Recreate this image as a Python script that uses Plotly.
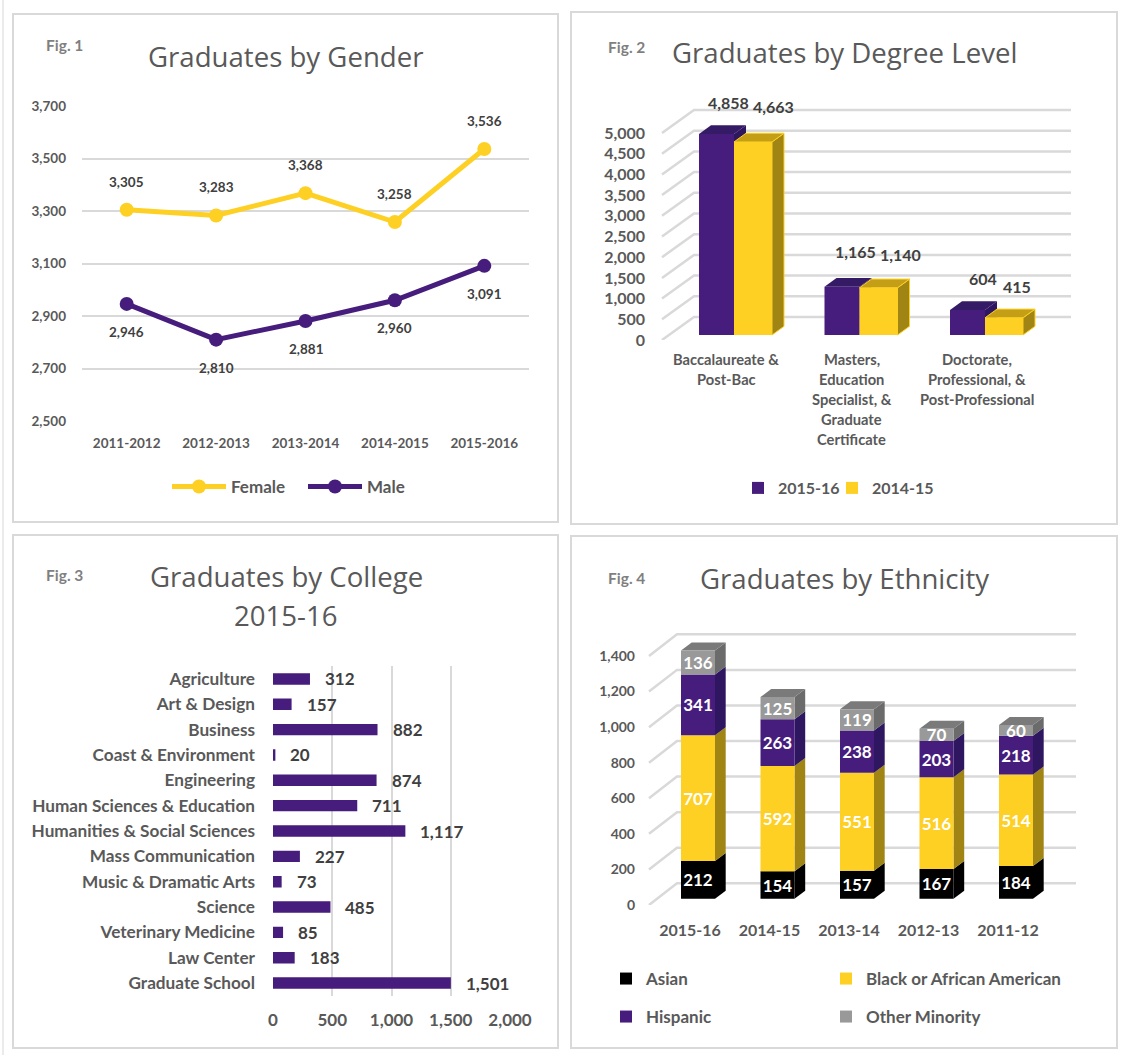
import plotly.graph_objects as go

W, H = 1127, 1055
PURPLE, YELLOW = "#461D7C", "#FDD023"
BLACK, GREY = "#000000", "#999999"
GRID = "#d9d9d9"
BODY = "Lato"
TITLE = "Open Sans"
TXT = "#404040"
TICK = "#595959"

# ---------- data ----------
years1 = ["2011-2012", "2012-2013", "2013-2014", "2014-2015", "2015-2016"]
female = [3305, 3283, 3368, 3258, 3536]
male = [2946, 2810, 2881, 2960, 3091]

degree_lines = [
    ["Baccalaureate &", "Post-Bac"],
    ["Masters,", "Education", "Specialist, &", "Graduate", "Certificate"],
    ["Doctorate,", "Professional, &", "Post-Professional"],
]
deg_1516 = [4858, 1165, 604]
deg_1415 = [4663, 1140, 415]

colleges = ["Agriculture", "Art & Design", "Business", "Coast & Environment", "Engineering",
            "Human Sciences & Education", "Humanities & Social Sciences", "Mass Communication",
            "Music & Dramatic Arts", "Science", "Veterinary Medicine", "Law Center", "Graduate School"]
college_vals = [312, 157, 882, 20, 874, 711, 1117, 227, 73, 485, 85, 183, 1501]

years4 = ["2015-16", "2014-15", "2013-14", "2012-13", "2011-12"]
asian = [212, 154, 157, 167, 184]
black = [707, 592, 551, 516, 514]
hispanic = [341, 263, 238, 203, 218]
other = [136, 125, 119, 70, 60]

fig = go.Figure()


def xd(a, b):
    return [a / W, b / W]


def yd(top, bottom):
    return [1 - bottom / H, 1 - top / H]


def note(text, x, y, size, color=TXT, family=BODY, bold=True, **kw):
    fig.add_annotation(text=f"<b>{text}</b>" if bold else text, x=x, y=y, showarrow=False,
                       font=dict(family=family, size=size, color=color), **kw)


def paper(text, px, py, size, color=TXT, family=BODY, bold=True):
    note(text, px / W, 1 - py / H, size, color, family, bold, xref="paper", yref="paper",
         xanchor="center", yanchor="middle")


# ---------- panels ----------
panels = [(13, 14, 558, 522), (571, 12, 1117, 524), (13, 535, 558, 1048), (571, 536, 1117, 1048)]
for x0, y0, x1, y1 in panels:
    fig.add_shape(type="rect", xref="paper", yref="paper", x0=x0 / W, x1=x1 / W, y0=1 - y0 / H, y1=1 - y1 / H,
                  line=dict(color=GRID, width=2), fillcolor="white", layer="below")

for t, x, y in [("Graduates by Gender", 285, 56), ("Graduates by Degree Level", 844, 52),
                ("Graduates by College", 286, 576), ("2015-16", 286, 615), ("Graduates by Ethnicity", 844, 578)]:
    paper(t, x, y, 27.6, "#595959", TITLE, False)
for t, x, y in [("Fig. 1", 64, 45), ("Fig. 2", 626, 47), ("Fig. 3", 64, 575), ("Fig. 4", 626, 578)]:
    paper(t, x, y, 15.5, "#7f7f7f")

# ---------- Fig 1 ----------
fig.add_trace(go.Scatter(x=years1, y=female, name="Female", mode="lines+markers", legend="legend",
                         line=dict(color=YELLOW, width=5), marker=dict(size=14, color=YELLOW),
                         xaxis="x", yaxis="y"))
fig.add_trace(go.Scatter(x=years1, y=male, name="Male", mode="lines+markers", legend="legend",
                         line=dict(color=PURPLE, width=5), marker=dict(size=14, color=PURPLE),
                         xaxis="x", yaxis="y"))
for c, v in zip(years1, female):
    note(f"{v:,}", c, v, 13.5, xref="x", yref="y", yshift=28)
for c, v in zip(years1, male):
    note(f"{v:,}", c, v, 13.5, xref="x", yref="y", yshift=-28)

# ---------- Fig 2 (oblique projection, pixel depth converted to axis units) ----------
U2 = 207 / 5000  # px per unit
C2 = 125.5       # px per category
X2 = 726         # px of first category
L2, R2 = 646, 1080
ticks2 = list(range(0, 5001, 500))
for v in ticks2:
    fig.add_trace(go.Scatter(x=[(662 - X2) / C2, (694 - X2) / C2, (1071 - X2) / C2],
                             y=[v, v + 23 / U2, v + 23 / U2], mode="lines", showlegend=False, hoverinfo="skip",
                             line=dict(color=GRID, width=2.5), xaxis="x2", yaxis="y2", zorder=0))


def prism(cx, w, base, height, side, top, dxp, dyp, xax, yax, z, unit_x, unit_y, edge=None):
    """Side and top faces of a bar; cx,w in category units, base,height in value units."""
    l, r = cx - w / 2, cx + w / 2
    dx, dy = dxp / unit_x, dyp / unit_y
    t = base + height
    ln = dict(color=edge, width=1) if edge else dict(width=0)
    fig.add_trace(go.Scatter(x=[r, r + dx, r + dx, r, r], y=[base, base + dy, t + dy, t, base], fill="toself",
                             fillcolor=side, mode="lines", line=ln, showlegend=False, hoverinfo="skip",
                             xaxis=xax, yaxis=yax, zorder=z))
    if top:
        fig.add_trace(go.Scatter(x=[l, r, r + dx, l + dx, l], y=[t, t, t + dy, t + dy, t], fill="toself",
                                 fillcolor=top, mode="lines", line=ln, showlegend=False, hoverinfo="skip",
                                 xaxis=xax, yaxis=yax, zorder=z))


base2 = 5 / U2
pur_c, pur_w = -9.5 / C2, 35 / C2
yel_c, yel_w = 27 / C2, 38 / C2
for i, (a, b) in enumerate(zip(deg_1516, deg_1415)):
    prism(i + pur_c, pur_w, base2, a, "#2E1660", "#351A66", 12, 8.7, "x2", "y2", 1, C2, U2)
    prism(i + yel_c, yel_w, base2, b, "#A08414", "#C49E14", 12, 8.7, "x2", "y2", 3, C2, U2, YELLOW)
cats2 = list(range(len(deg_1516)))
fig.add_trace(go.Bar(x=[i + pur_c for i in cats2], y=deg_1516, base=[base2] * 3, width=pur_w, name="2015-16",
                     marker=dict(color=PURPLE, line=dict(width=0)), legend="legend2", xaxis="x2", yaxis="y2", zorder=2))
fig.add_trace(go.Bar(x=[i + yel_c for i in cats2], y=deg_1415, base=[base2] * 3, width=yel_w, name="2014-15",
                     marker=dict(color=YELLOW, line=dict(width=0)), legend="legend3", xaxis="x2", yaxis="y2", zorder=4))
shift_a = [(12, 31), (13, 35), (15, 31)]
shift_b = [(20, 35), (22, 33), (13, 31)]
for i in cats2:
    note(f"{deg_1516[i]:,}", i + pur_c, deg_1516[i] + base2, 16, xref="x2", yref="y2",
         xshift=shift_a[i][0], yshift=shift_a[i][1])
    note(f"{deg_1415[i]:,}", i + yel_c, deg_1415[i] + base2, 16, xref="x2", yref="y2",
         xshift=shift_b[i][0], yshift=shift_b[i][1])
    for j, line in enumerate(degree_lines[i]):
        note(line, i, 0, 14.7, TICK, xref="x2", yref="y2", yshift=-19 - 20 * j, yanchor="middle")

# ---------- Fig 3 ----------
fig.add_trace(go.Bar(x=college_vals, y=colleges, orientation="h", width=0.45, showlegend=False,
                     marker=dict(color=PURPLE, line=dict(width=0)), xaxis="x3", yaxis="y3"))
for c, v in zip(colleges, college_vals):
    note(f"{v:,}", v, c, 17, xref="x3", yref="y3", xanchor="left", xshift=13)

# ---------- Fig 4 ----------
U4 = 35.57 / 200
C4 = 79.5
X4 = 690
L4, R4 = 636, 1082
for v in range(0, 1401, 200):
    fig.add_trace(go.Scatter(x=[(649 - X4) / C4, (677 - X4) / C4, (1076 - X4) / C4],
                             y=[v, v + 21.7 / U4, v + 21.7 / U4], mode="lines", showlegend=False, hoverinfo="skip",
                             line=dict(color=GRID, width=2.5), xaxis="x4", yaxis="y4", zorder=0))
base4 = 6.3 / U4
off4, w4 = 8 / C4, 34 / C4
stack = [("Asian", asian, BLACK, "#000000", None, "legend4"),
         ("Black or African American", black, YELLOW, "#A08414", None, "legend5"),
         ("Hispanic", hispanic, PURPLE, "#2E1660", None, "legend6"),
         ("Other Minority", other, GREY, "#6b6b6b", "#7a7a7a", "legend7")]
cum = [base4] * 5
idx4 = list(range(5))
for name, vals, col, side, top, leg in stack:
    for i in idx4:
        prism(i + off4, w4, cum[i], vals[i], side, top, 10.7, 8, "x4", "y4", 1, C4, U4)
    fig.add_trace(go.Bar(x=[i + off4 for i in idx4], y=vals, base=list(cum), width=w4, name=name,
                         text=[str(v) for v in vals], textposition="inside", insidetextanchor="middle",
                         textangle=0, constraintext="none",
                         insidetextfont=dict(family=BODY, size=17, color="white", weight="bold"),
                         marker=dict(color=col, line=dict(width=0)), legend=leg,
                         xaxis="x4", yaxis="y4", zorder=2))
    cum = [c + v for c, v in zip(cum, vals)]

# ---------- layout ----------
tickf = lambda s, c=TICK: dict(family=BODY, size=s, color=c, weight="bold")
hidden = dict(showline=False, zeroline=False, ticks="")


def legend(px, py, size):
    return dict(orientation="h", x=px / W, y=1 - py / H, xanchor="left", yanchor="middle", xref="paper", yref="paper",
                bgcolor="rgba(0,0,0,0)", font=dict(family=BODY, size=size, color=TICK, weight="bold"),
                traceorder="normal", tracegroupgap=0)


leg1 = legend(167, 487, 17)
leg1["itemwidth"] = 54
leg1["entrywidth"] = 67
leg1["entrywidthmode"] = "pixels"
fig.update_layout(
    width=W, height=H, margin=dict(l=0, r=0, t=0, b=0, autoexpand=False), paper_bgcolor="white", plot_bgcolor="rgba(0,0,0,0)",
    barmode="overlay", hovermode=False, font=dict(family=BODY, color=TXT), showlegend=True,
    legend=leg1, legend2=legend(738, 488, 16), legend3=legend(832, 488, 16),
    legend4=legend(606, 979, 17), legend5=legend(826, 979, 17), legend6=legend(606, 1017, 17), legend7=legend(826, 1017, 17),
    xaxis=dict(domain=xd(82, 529), type="category", range=[-0.5, 4.5], showgrid=False, anchor="y",
               tickfont=tickf(13.5), ticklabelstandoff=12, **hidden),
    yaxis=dict(domain=yd(106, 421), range=[2500, 3700], tick0=2500, dtick=200, tickformat=",", gridcolor=GRID, gridwidth=1.5,
               anchor="x", tickfont=tickf(13.5), ticklabelstandoff=15, **hidden),
    xaxis2=dict(domain=xd(L2, R2), range=[(L2 - X2) / C2, (R2 - X2) / C2], showgrid=False, anchor="y2",
                showticklabels=False, **hidden),
    yaxis2=dict(domain=yd(100, 340), range=[0, 240 / U2], tickvals=ticks2, tickformat=",", showgrid=False,
                anchor="x2", tickfont=tickf(16), **hidden),
    xaxis3=dict(domain=xd(273, 510), range=[0, 2000], dtick=500, tickformat=",", gridcolor=GRID, gridwidth=1.5,
                anchor="y3", tickfont=tickf(17), ticklabelstandoff=12, **hidden),
    yaxis3=dict(domain=yd(666.3, 995.7), type="category", autorange=False, range=[12.5, -0.5], showgrid=False,
                anchor="x3", tickfont=tickf(17.2), ticklabelstandoff=17, **hidden),
    xaxis4=dict(domain=xd(L4, R4), range=[(L4 - X4) / C4, (R4 - X4) / C4], tickvals=idx4, ticktext=years4,
                showgrid=False, anchor="y4", tickfont=tickf(16), ticklabelstandoff=14, **hidden),
    yaxis4=dict(domain=yd(625, 905), range=[0, 280 / U4], tickvals=list(range(0, 1401, 200)), tickformat=",",
                showgrid=False, anchor="x4", tickfont=tickf(14), **hidden),
)
fig.add_shape(type="line", xref="paper", yref="paper", x0=3 / W, x1=3 / W, y0=0, y1=1,
              line=dict(color="#e4e4e4", width=1.5), layer="below")

fig.write_html("out.html", config={"displayModeBar": False}, post_script="document.body.style.margin='0';")
